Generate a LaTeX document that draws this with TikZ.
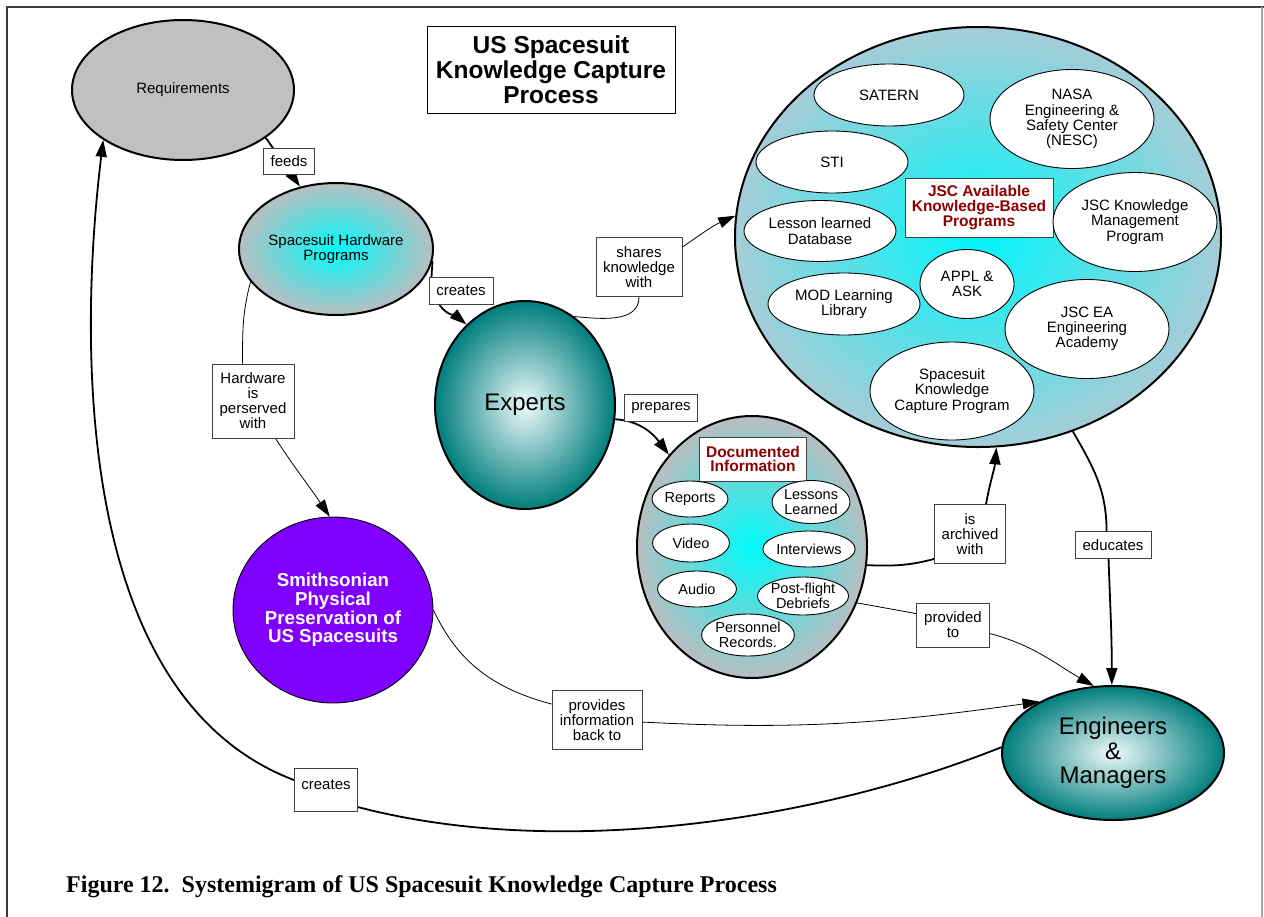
\documentclass[tikz,border=0pt]{standalone}
\usepackage{fontspec}
\setmainfont{Liberation Sans}
\newfontfamily\capfont{Liberation Serif}
\usetikzlibrary{shapes.geometric,arrows.meta}
\pgfdeclarelayer{bg}
\pgfsetlayers{bg,main}
\definecolor{shpcyan}{RGB}{0,250,250}
\definecolor{shpgray}{RGB}{185,190,192}
\definecolor{jscin}{RGB}{0,245,250}
\definecolor{jscout}{RGB}{165,205,215}
\definecolor{tealout}{RGB}{0,125,125}
\definecolor{tealin}{RGB}{238,250,250}
\definecolor{purp}{RGB}{128,0,255}
\definecolor{dred}{RGB}{140,0,0}
\definecolor{reqgray}{RGB}{192,192,192}
\definecolor{framegray}{RGB}{60,60,60}
\tikzset{
  outerell/.style={ellipse, draw=black, line width=2pt, inner sep=0pt, align=center, font=\fontsize{15}{15.5}\selectfont},
  innerell/.style={ellipse, draw=black, line width=0.9pt, fill=white, inner sep=0pt, align=center, font=\fontsize{15}{15.3}\selectfont},
  docell/.style={ellipse, draw=black, line width=0.9pt, fill=white, inner sep=0pt, align=center, font=\fontsize{14.5}{14.5}\selectfont},
  lbl/.style={draw=black!75, line width=0.9pt, fill=white, inner sep=0pt, align=center, font=\fontsize{15}{15}\selectfont},
  redbox/.style={draw=black!75, line width=0.9pt, fill=white, inner sep=0pt, align=center, text=dred, font=\bfseries\fontsize{15.5}{15}\selectfont},
  thickedge/.style={line width=1.8pt},
  thinedge/.style={line width=0.8pt},
  arr/.style={-{Triangle[length=17pt,width=11pt]}},
  cyanshade/.style={inner color=shpcyan, outer color=shpgray},
  tealshade/.style={inner color=tealin, outer color=tealout}
}
\begin{document}
\begin{tikzpicture}[x=1pt,y=1pt]
\useasboundingbox (0,0) rectangle (1264,-916);
% frame
\draw[framegray, line width=1.4pt] (7,-930) -- (7,-7) -- (1264,-7);
\draw[black!35, line width=1.4pt] (1262,-7) -- (1262,-930);

% main nodes
\node[outerell, fill=reqgray, minimum width=222pt, minimum height=140pt] (req) at (183,-90) {Requirements};
\node[draw=black, line width=1pt, minimum width=248pt, minimum height=87pt, inner sep=0pt, align=center, font=\bfseries\fontsize{24.5}{25}\selectfont] (title) at (551,-70) {US Spacesuit\\Knowledge Capture\\Process};
\node[outerell, cyanshade, minimum width=194pt, minimum height=132pt] (shp) at (336,-249) {Spacesuit Hardware\\Programs};
\node[outerell, tealshade, minimum width=180pt, minimum height=208pt, font=\fontsize{24}{24}\selectfont] (exp) at (525,-405) {\raisebox{-4pt}{Experts}};
\node[outerell, inner color=jscin, outer color=jscout, minimum width=486pt, minimum height=420pt] (jsc) at (978,-237) {};
\node[outerell, cyanshade, minimum width=230pt, minimum height=262pt] (doc) at (752,-547) {};
\node[ellipse, draw=black, line width=0.9pt, fill=purp, inner sep=0pt, minimum width=200pt, minimum height=186pt, align=center, text=white, font=\bfseries\fontsize{18.7}{18.7}\selectfont] (smith) at (333,-610) {Smithsonian\\Physical\\Preservation of\\US Spacesuits};
\node[outerell, tealshade, minimum width=222pt, minimum height=134pt, font=\fontsize{24}{24.7}\selectfont] (eng) at (1113,-753) {Engineers\\\&\\Managers};

% JSC inner programs
\node[innerell, minimum width=150pt, minimum height=62pt] (satern) at (889,-95) {SATERN};
\node[innerell, minimum width=164pt, minimum height=99pt] (nesc) at (1072,-119) {NASA\\Engineering \&\\Safety Center\\(NESC)};
\node[innerell, minimum width=152pt, minimum height=62pt] (sti) at (832,-162) {STI};
\node[redbox, minimum width=148pt, minimum height=59pt] (jscbox) at (979,-208) {JSC Available\\Knowledge-Based\\Programs};
\node[innerell, minimum width=152pt, minimum height=61pt] (lld) at (820,-231) {Lesson learned\\Database};
\node[innerell, minimum width=164pt, minimum height=99pt] (jkmp) at (1135,-222) {JSC Knowledge\\Management\\Program};
\node[innerell, minimum width=94pt, minimum height=69pt] (appl) at (967,-284) {APPL \&\\ASK};
\node[innerell, minimum width=152pt, minimum height=62pt] (mod) at (844,-304) {MOD Learning\\Library};
\node[innerell, minimum width=164pt, minimum height=99pt] (jscea) at (1087,-329) {JSC EA\\Engineering\\Academy};
\node[innerell, minimum width=164pt, minimum height=98pt] (skcp) at (952,-391) {Spacesuit\\Knowledge\\Capture Program};

% Documented information items
\node[redbox, minimum width=107pt, minimum height=44pt, font=\bfseries\fontsize{15.5}{14.5}\selectfont] (docbox) at (753,-459) {Documented\\Information};
\node[docell, minimum width=76pt, minimum height=36pt] (reports) at (690,-499) {Reports};
\node[docell, minimum width=78pt, minimum height=43pt] (lessons) at (811,-502) {Lessons\\Learned};
\node[docell, minimum width=77pt, minimum height=38pt] (video) at (691,-543) {Video};
\node[docell, minimum width=92pt, minimum height=36pt] (interv) at (809,-549) {Interviews};
\node[docell, minimum width=79pt, minimum height=36pt] (audio) at (697,-589) {Audio};
\node[docell, minimum width=91pt, minimum height=38pt] (debrief) at (803,-596) {Post-flight\\Debriefs};
\node[docell, minimum width=93pt, minimum height=42pt] (personnel) at (748,-635) {Personnel\\Records.};

% edge labels
\node[lbl, minimum width=51pt, minimum height=26pt] (feeds) at (289,-161) {feeds};
\node[lbl, minimum width=64pt, minimum height=27pt] (creates1) at (461,-291) {creates};
\node[lbl, minimum width=86pt, minimum height=59pt] (shares) at (639,-267) {shares\\knowledge\\with};
\node[lbl, minimum width=82pt, minimum height=74pt] (hw) at (253,-401) {Hardware\\is\\perserved\\with};
\node[lbl, minimum width=73pt, minimum height=27pt] (prep) at (661,-408) {prepares};
\node[lbl, minimum width=71pt, minimum height=59pt] (arch) at (970,-534) {is\\archived\\with};
\node[lbl, minimum width=73pt, minimum height=44pt] (prov) at (953,-625) {provided\\to};
\node[lbl, minimum width=76pt, minimum height=27pt] (edu) at (1113,-545) {educates};
\node[lbl, minimum width=90pt, minimum height=59pt] (provinfo) at (597,-720) {provides\\information\\back to};
\node[lbl, minimum width=63pt, minimum height=43pt] (cre2) at (326,-790) {creates\\[-5pt]\mbox{}};

% caption
\node[anchor=base west, inner sep=0pt, font=\capfont\bfseries\fontsize{24}{24}\selectfont] (caption) at (66,-892) {Figure 12.\ \ Systemigram of US Spacesuit Knowledge Capture Process};

% connectors
\begin{pgfonlayer}{bg}
\draw[thickedge, arr] (req.-30) -- (shp.120);
\draw[thickedge] (shp.-7) to[out=-90,in=90] ([xshift=3pt]creates1.north west);
\draw[thickedge, arr] ([xshift=11pt]creates1.south west) to[out=-55,in=140] (exp.126);
\draw[thinedge] (exp.61) to[out=-5,in=-90] (shares.south);
\draw[thinedge, arr] ([yshift=-10pt]shares.north east) to[out=35,in=-156] (jsc.175.5);
\draw[thinedge] (shp.-159) to[out=-105,in=90] ([xshift=31pt]hw.north west);
\draw[thinedge, arr] ([xshift=64pt]hw.south west) to[out=-57,in=124] (smith.92);
\draw[thickedge, arr] (exp.-9.5) to[out=-3,in=127] (doc.132);
\draw[thickedge] (doc.-9) to[out=-2,in=195] ([yshift=5pt]arch.south west);
\draw[thickedge, arr] ([xshift=52pt]arch.north west) to[out=80,in=-95] (jsc.-85.4);
\draw[thinedge] (doc.-28) -- ([yshift=-11pt]prov.north west);
\draw[thinedge, arr] ([yshift=-31pt]prov.north east) to[out=-15,in=150] (eng.106);
\draw[thickedge] (jsc.-64.3) to[out=-60,in=90] ([xshift=32pt]edu.north west);
\draw[thickedge, arr] ([xshift=34pt]edu.south west) to[out=-88,in=90] (eng.91);
\draw[thinedge] (smith.0) to[out=-65,in=165] ([yshift=-14pt]provinfo.north west);
\draw[thinedge, arr] ([yshift=-32pt]provinfo.north east) to[out=-3,in=188] (eng.145);
\draw[thickedge] (eng.177) .. controls (820,-820) and (560,-860) .. ([yshift=-39pt]cre2.north east);
\draw[thickedge, arr] ([yshift=-12pt]cre2.north west) .. controls (70,-695) and (80,-330) .. (req.-148);
\end{pgfonlayer}
\end{tikzpicture}
\end{document}
